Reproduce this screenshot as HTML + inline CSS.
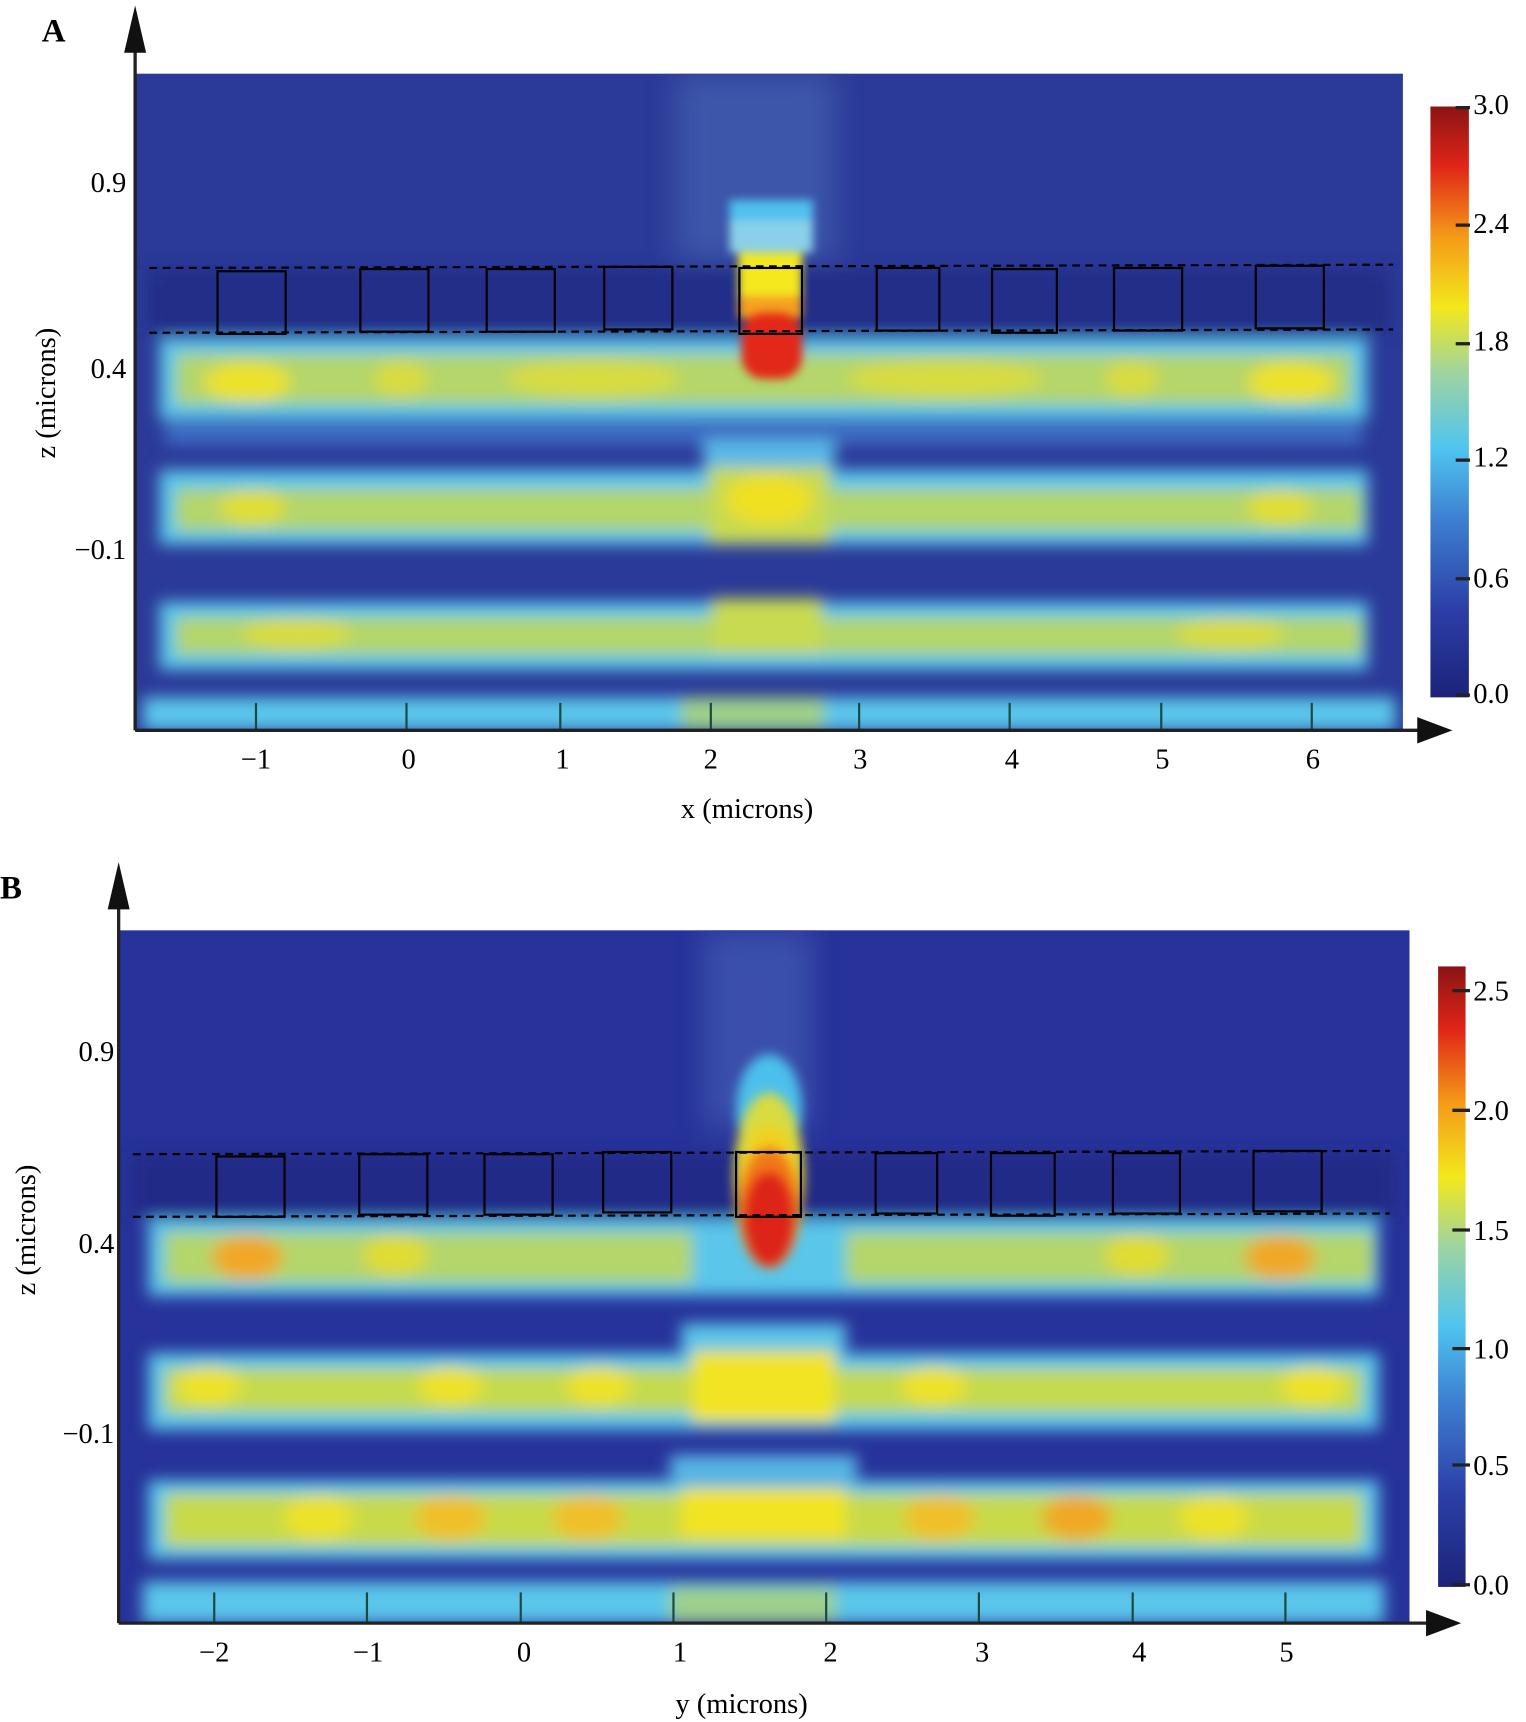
<!DOCTYPE html>
<html><head><meta charset="utf-8"><style>html,body{margin:0;padding:0;background:#fff}svg{display:block}</style></head>
<body>
<svg width="1526" height="1722" viewBox="0 0 1389 1568" preserveAspectRatio="none" xmlns="http://www.w3.org/2000/svg" font-family="Liberation Serif, serif">
<defs>
<filter id="bl" x="-5%" y="-5%" width="110%" height="110%"><feGaussianBlur stdDeviation="7"/></filter>
<filter id="bl2"><feGaussianBlur stdDeviation="12"/></filter>
<clipPath id="ca"><rect x="123" y="67" width="1154" height="598"/></clipPath>
<clipPath id="cb"><rect x="108" y="847" width="1175" height="631"/></clipPath>
<linearGradient id="cm" x1="0" y1="1" x2="0" y2="0">
<stop offset="0" stop-color="#1c2378"/><stop offset="0.15" stop-color="#2c3fa8"/><stop offset="0.3" stop-color="#3d7fd0"/><stop offset="0.42" stop-color="#4fc4f0"/><stop offset="0.55" stop-color="#9fd4a0"/><stop offset="0.66" stop-color="#f3e81c"/><stop offset="0.78" stop-color="#f59a18"/><stop offset="0.9" stop-color="#e02418"/><stop offset="1" stop-color="#8a1414"/>
</linearGradient>
</defs>

<!-- Panel A heatmap -->
<g clip-path="url(#ca)">
<rect x="123" y="67" width="1154" height="598" fill="#2b3a98"/>
<g filter="url(#bl)">
<rect x="615" y="67" width="145" height="170" fill="#3e57aa" filter="url(#bl2)"/>
<rect x="135" y="245" width="1130" height="58" fill="#232f88"/>
<rect x="145" y="308" width="1100" height="74" fill="#5ac6ea"/>
<rect x="160" y="322" width="1070" height="46" fill="#b4d66a"/>
<ellipse cx="225" cy="348" rx="40" ry="18" fill="#ece22a"/>
<ellipse cx="365" cy="345" rx="25" ry="16" fill="#d8dc40"/>
<ellipse cx="540" cy="345" rx="80" ry="16" fill="#d8dc40"/>
<ellipse cx="860" cy="345" rx="90" ry="16" fill="#d8dc40"/>
<ellipse cx="1030" cy="345" rx="25" ry="16" fill="#d8dc40"/>
<ellipse cx="1175" cy="348" rx="40" ry="18" fill="#ece22a"/>
<rect x="150" y="385" width="1090" height="20" fill="#3d6cc4"/>
<rect x="145" y="428" width="1100" height="68" fill="#5ac6ea"/>
<rect x="160" y="445" width="1080" height="38" fill="#b4d66a"/>
<ellipse cx="230" cy="462" rx="30" ry="16" fill="#e0de36"/>
<ellipse cx="1165" cy="462" rx="30" ry="16" fill="#e0de36"/>
<rect x="145" y="548" width="1100" height="62" fill="#5ac6ea"/>
<rect x="160" y="562" width="1080" height="34" fill="#b4d66a"/>
<ellipse cx="270" cy="577" rx="50" ry="14" fill="#d8dc40"/>
<ellipse cx="1120" cy="577" rx="50" ry="14" fill="#d8dc40"/>
<rect x="130" y="635" width="1140" height="30" fill="#5ac6ea"/>
<rect x="620" y="635" width="130" height="30" fill="#9ed08a"/>
<rect x="640" y="400" width="120" height="28" fill="#58b8e6"/>
<rect x="645" y="425" width="110" height="70" fill="#c8da50"/>
<ellipse cx="700" cy="455" rx="40" ry="22" fill="#f0e020"/>
<rect x="648" y="545" width="100" height="50" fill="#c8da50"/>
</g>
<g filter="url(#bl)" style="filter:blur(4px)">
<rect x="664" y="182" width="76" height="22" fill="#50c0ee"/>
<rect x="664" y="200" width="76" height="30" fill="#8ad0e8"/>
<rect x="672" y="230" width="58" height="45" fill="#f4e81e"/>
<rect x="672" y="270" width="58" height="20" fill="#f4a020"/>
<rect x="675" y="285" width="55" height="60" fill="#e22818" rx="20"/>
</g>
</g>
<g fill="none" stroke="#000" stroke-width="2">
<rect x="198" y="247" width="62" height="57"/><rect x="328" y="245" width="62" height="57"/><rect x="443" y="245" width="62" height="57"/><rect x="550" y="243" width="62" height="57"/><rect x="673" y="244" width="57" height="60"/><rect x="798" y="244" width="57" height="57"/><rect x="903" y="245" width="59" height="58"/><rect x="1014" y="244" width="62" height="57"/><rect x="1143" y="242" width="62" height="57"/>
<line x1="136" y1="244" x2="1268" y2="241" stroke-dasharray="7,5"/><line x1="136" y1="303" x2="1268" y2="300" stroke-dasharray="7,5"/>
</g>
<g stroke="#1a4a40" stroke-width="2">
<line x1="233" y1="640" x2="233" y2="665"/><line x1="370" y1="640" x2="370" y2="665"/><line x1="510" y1="640" x2="510" y2="665"/><line x1="647" y1="640" x2="647" y2="665"/><line x1="782" y1="640" x2="782" y2="665"/><line x1="919" y1="640" x2="919" y2="665"/><line x1="1057" y1="640" x2="1057" y2="665"/><line x1="1194" y1="640" x2="1194" y2="665"/>
</g>
<g stroke="#222" stroke-width="3"><line x1="123" y1="25" x2="123" y2="665"/><line x1="123" y1="665" x2="1300" y2="665"/></g>
<polygon points="123,5 113,48 133,48" fill="#111"/><polygon points="1322,665 1290,653 1290,677" fill="#111"/>
<text x="38" y="38" font-size="30" font-weight="bold">A</text>
<g font-size="26" text-anchor="end"><text x="115" y="175">0.9</text><text x="115" y="344">0.4</text><text x="115" y="509">−0.1</text></g>
<text transform="translate(50,358) rotate(-90)" font-size="26" text-anchor="middle">z (microns)</text>
<g font-size="26" text-anchor="middle"><text x="233" y="700">−1</text><text x="372" y="700">0</text><text x="512" y="700">1</text><text x="647" y="700">2</text><text x="783" y="700">3</text><text x="921" y="700">4</text><text x="1058" y="700">5</text><text x="1195" y="700">6</text></g>
<text x="680" y="745" font-size="26" text-anchor="middle">x (microns)</text>
<rect x="1302" y="97" width="35" height="538" fill="url(#cm)"/>
<g stroke="#222" stroke-width="3"><line x1="1325" y1="98" x2="1338" y2="98"/><line x1="1325" y1="205" x2="1338" y2="205"/><line x1="1325" y1="313" x2="1338" y2="313"/><line x1="1325" y1="419" x2="1338" y2="419"/><line x1="1325" y1="527" x2="1338" y2="527"/><line x1="1325" y1="633" x2="1338" y2="633"/></g>
<g font-size="26"><text x="1341" y="104">3.0</text><text x="1341" y="212">2.4</text><text x="1341" y="319">1.8</text><text x="1341" y="425">1.2</text><text x="1341" y="535">0.6</text><text x="1341" y="640">0.0</text></g>

<!-- Panel B heatmap -->
<g clip-path="url(#cb)">
<rect x="108" y="847" width="1175" height="631" fill="#27339a"/>
<g filter="url(#bl)">
<rect x="640" y="847" width="100" height="180" fill="#3a50aa" filter="url(#bl2)"/>
<rect x="120" y="1050" width="1150" height="58" fill="#222c88"/>
<rect x="135" y="1110" width="1120" height="70" fill="#5ac6ea"/>
<rect x="150" y="1122" width="480" height="46" fill="#b4d66a"/>
<rect x="770" y="1122" width="480" height="46" fill="#b4d66a"/>
<ellipse cx="225" cy="1145" rx="32" ry="20" fill="#f0a828"/>
<ellipse cx="360" cy="1143" rx="30" ry="18" fill="#e0dc30"/>
<ellipse cx="1035" cy="1143" rx="30" ry="18" fill="#e0dc30"/>
<ellipse cx="1165" cy="1145" rx="32" ry="20" fill="#f0a828"/>
<rect x="620" y="1205" width="150" height="30" fill="#5cc4e8"/>
<rect x="135" y="1232" width="1120" height="70" fill="#5ac6ea"/>
<rect x="150" y="1246" width="1090" height="40" fill="#c4da50"/>
<rect x="630" y="1230" width="130" height="65" fill="#f2e420"/>
<ellipse cx="190" cy="1262" rx="30" ry="18" fill="#ece22a"/>
<ellipse cx="410" cy="1262" rx="30" ry="18" fill="#ece22a"/>
<ellipse cx="545" cy="1262" rx="30" ry="18" fill="#ece22a"/>
<ellipse cx="850" cy="1262" rx="30" ry="18" fill="#ece22a"/>
<ellipse cx="1195" cy="1262" rx="30" ry="18" fill="#ece22a"/>
<rect x="610" y="1325" width="170" height="22" fill="#58b8e6"/>
<rect x="135" y="1348" width="1120" height="72" fill="#5ac6ea"/>
<rect x="150" y="1360" width="1090" height="48" fill="#c8da48"/>
<ellipse cx="290" cy="1382" rx="32" ry="20" fill="#ece22a"/>
<ellipse cx="410" cy="1382" rx="32" ry="20" fill="#f0c02a"/>
<ellipse cx="535" cy="1382" rx="32" ry="20" fill="#f0c02a"/>
<rect x="620" y="1355" width="150" height="45" fill="#f2e420"/>
<ellipse cx="855" cy="1382" rx="32" ry="20" fill="#f0c02a"/>
<ellipse cx="980" cy="1382" rx="32" ry="20" fill="#f0a828"/>
<ellipse cx="1105" cy="1382" rx="32" ry="20" fill="#ece22a"/>
<rect x="130" y="1440" width="1130" height="38" fill="#5ac6ea"/>
<rect x="610" y="1445" width="150" height="33" fill="#9ed08a"/>
</g>
<g style="filter:blur(5px)">
<ellipse cx="700" cy="1010" rx="30" ry="50" fill="#4cc0ec"/>
<ellipse cx="700" cy="1070" rx="32" ry="75" fill="#d8dc40"/>
<ellipse cx="700" cy="1090" rx="30" ry="65" fill="#f2d020"/>
<ellipse cx="700" cy="1100" rx="27" ry="55" fill="#f07818"/>
<ellipse cx="700" cy="1110" rx="22" ry="42" fill="#dc2418"/>
</g>
</g>
<g fill="none" stroke="#000" stroke-width="2">
<rect x="197" y="1053" width="62" height="55"/><rect x="327" y="1051" width="62" height="55"/><rect x="441" y="1051" width="62" height="55"/><rect x="549" y="1049" width="62" height="55"/><rect x="670" y="1049" width="59" height="59"/><rect x="797" y="1050" width="56" height="55"/><rect x="902" y="1050" width="58" height="57"/><rect x="1013" y="1050" width="61" height="55"/><rect x="1141" y="1048" width="62" height="55"/>
<line x1="121" y1="1051" x2="1265" y2="1048" stroke-dasharray="7,5"/><line x1="121" y1="1108" x2="1265" y2="1105" stroke-dasharray="7,5"/>
</g>
<g stroke="#1a4a40" stroke-width="2">
<line x1="195" y1="1450" x2="195" y2="1478"/><line x1="334" y1="1450" x2="334" y2="1478"/><line x1="474" y1="1450" x2="474" y2="1478"/><line x1="613" y1="1450" x2="613" y2="1478"/><line x1="752" y1="1450" x2="752" y2="1478"/><line x1="891" y1="1450" x2="891" y2="1478"/><line x1="1031" y1="1450" x2="1031" y2="1478"/><line x1="1170" y1="1450" x2="1170" y2="1478"/>
</g>
<g stroke="#222" stroke-width="3"><line x1="108" y1="805" x2="108" y2="1478"/><line x1="108" y1="1478" x2="1305" y2="1478"/></g>
<polygon points="108,785 98,828 118,828" fill="#111"/><polygon points="1330,1478 1298,1466 1298,1490" fill="#111"/>
<text x="0" y="818" font-size="30" font-weight="bold">B</text>
<g font-size="26" text-anchor="end"><text x="104" y="966">0.9</text><text x="104" y="1141">0.4</text><text x="104" y="1314">−0.1</text></g>
<text transform="translate(32,1120) rotate(-90)" font-size="26" text-anchor="middle">z (microns)</text>
<g font-size="26" text-anchor="middle"><text x="195" y="1513">−2</text><text x="335" y="1513">−1</text><text x="477" y="1513">0</text><text x="619" y="1513">1</text><text x="756" y="1513">2</text><text x="894" y="1513">3</text><text x="1037" y="1513">4</text><text x="1171" y="1513">5</text></g>
<text x="675" y="1560" font-size="26" text-anchor="middle">y (microns)</text>
<rect x="1309" y="880" width="25" height="565" fill="url(#cm)"/>
<g stroke="#222" stroke-width="3"><line x1="1322" y1="902" x2="1338" y2="902"/><line x1="1322" y1="1011" x2="1338" y2="1011"/><line x1="1322" y1="1120" x2="1338" y2="1120"/><line x1="1322" y1="1228" x2="1338" y2="1228"/><line x1="1322" y1="1334" x2="1338" y2="1334"/><line x1="1322" y1="1443" x2="1338" y2="1443"/></g>
<g font-size="26"><text x="1341" y="911">2.5</text><text x="1341" y="1020">2.0</text><text x="1341" y="1129">1.5</text><text x="1341" y="1237">1.0</text><text x="1341" y="1343">0.5</text><text x="1341" y="1452">0.0</text></g>
</svg>
</body></html>
